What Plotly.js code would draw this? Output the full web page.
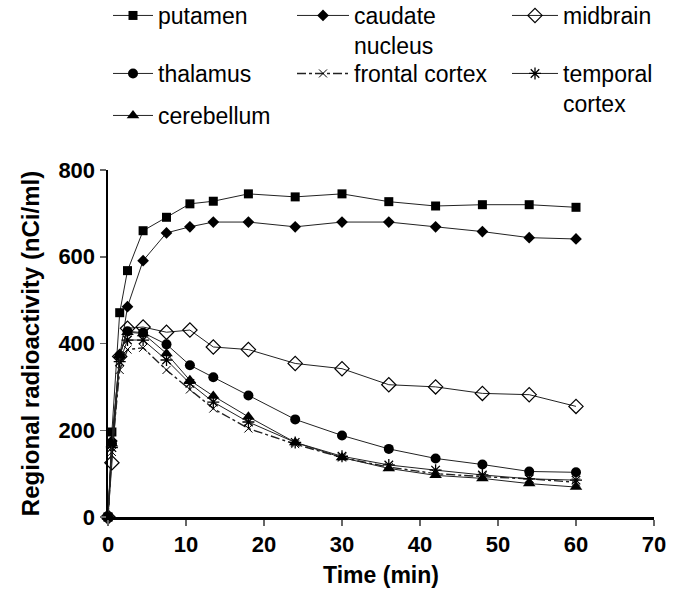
<!DOCTYPE html>
<html>
<head>
<meta charset="utf-8">
<script src="https://cdn.plot.ly/plotly-3.0.1.min.js"></script>
<style>html,body{margin:0;padding:0;background:#fff;}#chart{width:678px;height:591px;}</style>
</head>
<body>
<div id="chart"></div>
<script>
// ---- data ----
var timeMin = [0, 0.5, 1.5, 2.5, 4.5, 7.5, 10.5, 13.5, 18, 24, 30, 36, 42, 48, 54, 60];
var putamen = [0, 196, 471, 568, 660, 691, 722, 728, 745, 738, 745, 727, 717, 720, 720, 714];
var caudate = [0, 175, 370, 485, 591, 655, 669, 680, 680, 669, 680, 680, 669, 658, 644, 641];
var midbrain = [0, 125, 370, 435, 438, 426, 431, 392, 386, 354, 342, 305, 300, 285, 282, 255];
var thalamus = [0, 170, 372, 428, 425, 398, 350, 322, 280, 225, 188, 157, 135, 121, 105, 103];
var frontal = [0, 150, 339, 386, 390, 339, 294, 250, 204, 168, 137, 115, 100, 93, 88, 80];
var temporal = [0, 160, 358, 408, 408, 362, 308, 265, 219, 172, 140, 120, 108, 97, 88, 85];
var cerebellum = [0, 169, 373, 426, 423, 377, 315, 279, 231, 172, 137, 112, 96, 89, 77, 69];
var seriesNames = ['putamen', 'caudate<br>nucleus', 'midbrain', 'thalamus', 'frontal cortex', 'temporal<br>cortex', 'cerebellum'];
var xTicks = [0, 10, 20, 30, 40, 50, 60, 70];
var yTicks = [0, 200, 400, 600, 800];

var LC = '#222';
function tr(name, y, sym, size, dash, legendId, mlw) {
  return {
    x: timeMin, y: y, name: name, type: 'scatter', mode: 'lines+markers',
    line: {color: LC, width: dash === 'solid' ? 1 : 1.4, dash: dash},
    marker: {symbol: sym, size: size, color: '#000',
             line: {color: '#000', width: mlw || 0}},
    legend: legendId, cliponaxis: false
  };
}
var data = [
  tr(seriesNames[0], putamen, 'square', 9, 'solid', 'legend'),
  tr(seriesNames[1], caudate, 'diamond', 9, 'solid', 'legend2'),
  tr(seriesNames[2], midbrain, 'diamond-open', 11, 'solid', 'legend3', 1.2),
  tr(seriesNames[3], thalamus, 'circle', 10, 'solid', 'legend4'),
  tr(seriesNames[4], frontal, 'x-thin-open', 8, 'dashdot', 'legend5', 1),
  tr(seriesNames[5], temporal, 'asterisk-open', 10, 'solid', 'legend6', 1.3),
  tr(seriesNames[6], cerebellum, 'triangle-up', 11, 'solid', 'legend7')
];

var W = 678, H = 591, ML = 108, MR = 24, MT = 170, MB = 74;
var PW = W - ML - MR, PH = H - MT - MB;
var FONT = 'Liberation Sans, Arial, sans-serif';
function leg(px, pyTop, iw) {
  return {x: (px - ML) / PW, y: 1 + (MT - pyTop) / PH, xref: 'paper', yref: 'paper',
          xanchor: 'left', yanchor: 'top',
          orientation: 'h', valign: 'top', itemwidth: iw, bgcolor: 'rgba(0,0,0,0)',
          font: {family: FONT, size: 23, color: '#000'}, itemclick: false, tracegroupgap: 0};
}
var c1 = 108, c2 = 292, c3 = 507;
var layout = {
  width: W, height: H,
  margin: {l: ML, r: MR, t: MT, b: MB, autoexpand: false},
  paper_bgcolor: '#fff', plot_bgcolor: '#fff',
  showlegend: true,
  legend: leg(c1, -6, 40), legend2: leg(c2, -6, 52), legend3: leg(c3, -6, 46),
  legend4: leg(c1, 52, 40), legend5: leg(c2, 52, 52), legend6: leg(c3, 52, 46),
  legend7: leg(c1, 94, 40),
  xaxis: {
    range: [0, 70], tickvals: xTicks, ticktext: xTicks.map(String),
    showgrid: false, zeroline: false, showline: true, linecolor: '#000', linewidth: 2.5,
    ticks: 'outside', ticklen: 6, tickwidth: 1.5, tickcolor: '#666',
    tickfont: {family: FONT, size: 22, color: '#000', weight: 'bold'},
    title: {text: 'Time (min)', font: {family: FONT, size: 23, color: '#000', weight: 'bold'}, standoff: 11}
  },
  yaxis: {
    range: [0, 800], tickvals: yTicks, ticktext: yTicks.map(String),
    showgrid: false, zeroline: false, showline: true, linecolor: '#000', linewidth: 2.5,
    ticks: 'outside', ticklen: 6, tickwidth: 1.5, tickcolor: '#666',
    tickfont: {family: FONT, size: 22, color: '#000', weight: 'bold'},
    title: {text: 'Regional radioactivity (nCi/ml)', font: {family: FONT, size: 24, color: '#000', weight: 'bold'}, standoff: 12}
  }
};
Plotly.newPlot('chart', data, layout, {displayModeBar: false, staticPlot: true});
</script>
</body>
</html>
